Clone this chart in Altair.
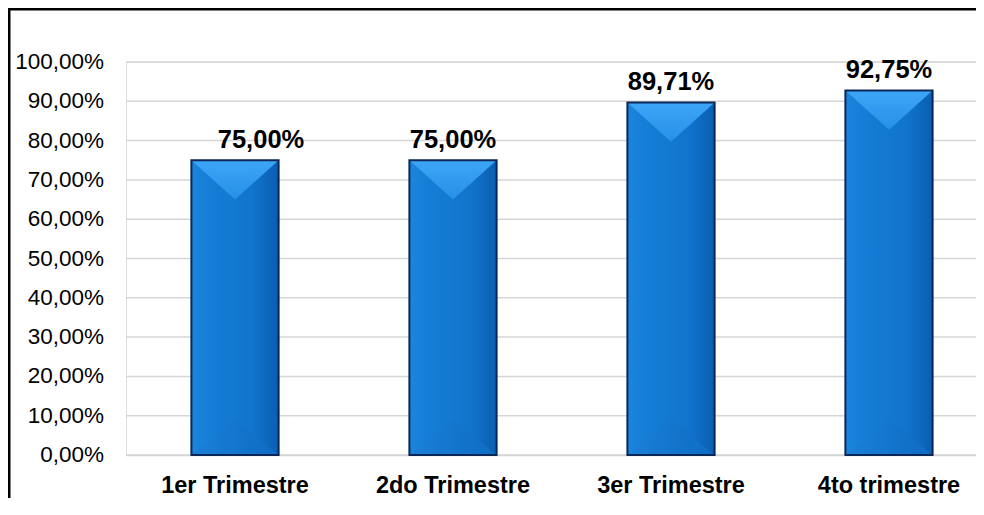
import altair as alt
import pandas as pd

categories = ["1er Trimestre", "2do Trimestre", "3er Trimestre", "4to trimestre"]
values = [0.75, 0.75, 0.8971, 0.9275]
y_ticks = [0.0, 0.1, 0.2, 0.3, 0.4, 0.5, 0.6, 0.7, 0.8, 0.9, 1.0]

df = pd.DataFrame({"cat": categories, "val": values})
ticks_df = pd.DataFrame({"t": y_ticks})

W, H = 850, 393
FONT = "Liberation Sans"
BW = 87.2  # bar width in px (band width of the x scale)

base = alt.Chart(df).transform_calculate(
    label="replace(format(datum.val, '.2%'), '.', ',')",
    zero="0",
)

xscale = alt.Scale(range=[0, 872], paddingInner=0.6, paddingOuter=0.3)
xaxis = alt.Axis(title=None, labelAngle=0, ticks=False, domain=True,
                 domainColor="#cfcfcf", domainWidth=1.5,
                 labelFont=FONT, labelFontSize=23.5, labelFontWeight="bold",
                 labelColor="black", labelPadding=18)
xenc = alt.X("cat:N", sort=categories, scale=xscale, axis=xaxis)
yscale = alt.Scale(domain=[0, 1], nice=False)
yaxis = alt.Axis(title=None, labels=False, ticks=False, domain=False, grid=False)
yenc = alt.Y("val:Q", scale=yscale, axis=yaxis)
yzero = alt.Y("zero:Q", scale=yscale, axis=yaxis)
ytick = alt.Y("t:Q", scale=yscale, axis=yaxis)

tick_base = alt.Chart(ticks_df).transform_calculate(
    tl="replace(format(datum.t, '.2%'), '.', ',')"
)
grid = tick_base.mark_rule(color="#d6d6d6", strokeWidth=1.5).encode(
    y=ytick, x=alt.value(0), x2=alt.value(W)
)
ylabels = tick_base.mark_text(
    align="right", baseline="middle", font=FONT, fontSize=22.5, color="black"
).encode(y=ytick, x=alt.value(-22), text="tl:N")

bars = base.mark_bar(
    fill=alt.Gradient(gradient="linear", x1=0, x2=1, y1=0, y2=0,
                      stops=[alt.GradientStop(color="#1b86de", offset=0),
                             alt.GradientStop(color="#157ed6", offset=0.2),
                             alt.GradientStop(color="#1174cd", offset=0.7),
                             alt.GradientStop(color="#0a5eb0", offset=1)]),
).encode(x=xenc, y=yenc)

top_tri = base.mark_point(
    shape="M -1 0 L 1 0 L 0 0.9 Z", size=BW * BW, filled=True, opacity=1,
    strokeWidth=0,
    fill=alt.Gradient(gradient="linear", x1=0, x2=0, y1=0, y2=1,
                      stops=[alt.GradientStop(color="#3ea6f6", offset=0),
                             alt.GradientStop(color="#2690e8", offset=1)]),
).encode(x=xenc, y=yenc)

bottom_tri = base.mark_point(
    shape="M -1 0 L 1 0 L 0 -0.8 Z", size=BW * BW, filled=True, opacity=1,
    strokeWidth=0,
    fill=alt.Gradient(gradient="linear", x1=0, x2=1, y1=0, y2=0,
                      stops=[alt.GradientStop(color="#1a80d9", offset=0),
                             alt.GradientStop(color="#0e6bc2", offset=1)]),
).encode(x=xenc, y=yzero)

outline = base.mark_bar(fill="transparent", stroke="#0b2757", strokeWidth=2).encode(
    x=xenc, y=yenc
)

label_kw = dict(baseline="bottom", dy=-7, font=FONT, fontSize=25.5,
                fontWeight="bold", color="black")
label_enc = dict(x=xenc, y=yenc, text="label:N")

labels_first = base.transform_filter(
    alt.datum.cat == categories[0]
).mark_text(dx=26, **label_kw).encode(**label_enc)

labels_rest = base.transform_filter(
    alt.datum.cat != categories[0]
).mark_text(**label_kw).encode(**label_enc)

frame_df = pd.DataFrame({"f": [0]})
frame_top = alt.Chart(frame_df).mark_rect(color="black", strokeWidth=0).encode(
    x=alt.value(-118), x2=alt.value(W), y=alt.value(-54), y2=alt.value(-51.5)
)
frame_left = alt.Chart(frame_df).mark_rect(color="black", strokeWidth=0).encode(
    x=alt.value(-118), x2=alt.value(-115.5), y=alt.value(-54), y2=alt.value(H + 43)
)

chart = alt.layer(
    grid, ylabels, bars, top_tri, bottom_tri, outline, labels_first, labels_rest,
    frame_top, frame_left
).properties(
    width=W, height=H,
    autosize=alt.AutoSizeParams(type="none"),
    padding={"left": 118, "top": 54, "right": 0, "bottom": 43},
).configure_view(stroke="transparent").configure(background="white")

chart.save("out.html", embed_options={"renderer": "svg", "actions": False})
